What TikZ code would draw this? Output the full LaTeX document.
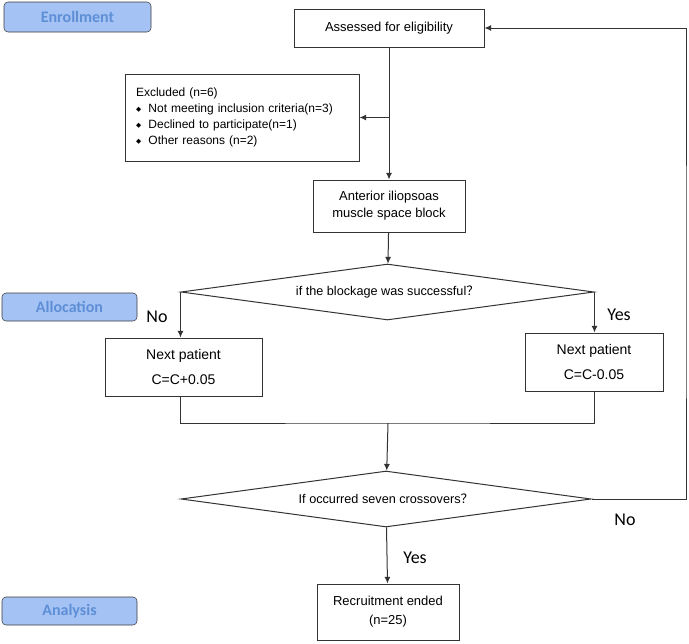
\documentclass[tikz,border=0pt]{standalone}
\usepackage{fontspec}
\setmainfont{Liberation Sans}
\newfontfamily\calibfont{Carlito}
\newfontfamily\cjkfont{Noto Sans CJK SC}
\newfontfamily\symfont{DejaVu Sans}
\usetikzlibrary{shapes.geometric,arrows.meta}
\definecolor{stagefill}{HTML}{A4C2F4}
\definecolor{stagetext}{HTML}{5E8FD6}
\definecolor{stageline}{HTML}{3C3C3C}
\definecolor{flowline}{HTML}{333333}
\newcommand{\bul}{\raisebox{1pt}{\symfont\fontsize{5}{5}\selectfont ◆}\hspace{5.5pt}}

\tikzset{
  stage/.style={draw=stageline, fill=stagefill, rounded corners=3pt, text=stagetext,
    font=\calibfont\bfseries\fontsize{12}{14}\selectfont,
    minimum width=101.25pt, minimum height=21pt, inner sep=0pt},
  box/.style={draw=flowline, line width=.75pt, align=center, inner sep=0pt,
    font=\fontsize{9.75}{12.75}\selectfont},
  decision/.style={draw=flowline, line width=.75pt, diamond, aspect=7.4, inner sep=0pt,
    minimum width=309.75pt, minimum height=42pt, font=\fontsize{9.5}{11}\selectfont},
  yesno/.style={font=\calibfont\fontsize{13.5}{16}\selectfont},
  flow/.style={draw=flowline, line width=.75pt},
  arr/.style={flow, -{Latex[length=5pt,width=4.5pt]}}
}

\begin{document}
\begin{tikzpicture}[x=.75pt, y=-.75pt]
  \useasboundingbox (0,0) rectangle (689,643);

  \coordinate (merge) at (388,423);
  \coordinate (loop) at (686,300);

  \node[stage, minimum width=110.25pt, minimum height=22.5pt] (enrol) at (77.5,17) {Enrollment};
  \node[stage] (alloc) at (69.5,307) {Allocation};
  \node[stage] (anal)  at (69.5,611) {Analysis};

  \node[box, minimum width=142.5pt, minimum height=28.5pt] (assess) at (389,28) {Assessed for eligibility};
  \node[box, align=left, text width=159pt, inner xsep=8.25pt, minimum height=65.25pt,
    font=\fontsize{9}{12}\selectfont] (excl) at (242,117.5)
    {Excluded (n=6)\\
     \bul Not meeting inclusion criteria(n=3)\\
     \bul Declined to participate(n=1)\\
     \bul Other reasons (n=2)};
  \node[box, minimum width=114pt, minimum height=39pt] (block) at (389,206) {Anterior iliopsoas\\muscle space block};
  \node[decision] (succ) at (387.5,292) {if the blockage was successful{\cjkfont ？}};
  \node[box, minimum width=117.75pt, minimum height=43.5pt, font=\fontsize{10.5}{18.75}\selectfont]
    (nextno) at (183.5,367) {Next patient\\C=C+0.05};
  \node[box, minimum width=103.5pt, minimum height=43.5pt, font=\fontsize{10.5}{18.75}\selectfont]
    (nextyes) at (594,362) {Next patient\\C=C-0.05};
  \node[decision, minimum width=307.5pt] (cross) at (386,499) {If occurred seven crossovers{\cjkfont ？}};
  \node[box, minimum width=106.5pt, minimum height=42pt, font=\fontsize{9.75}{14.25}\selectfont]
    (ended) at (388,612) {Recruitment ended\\(n=25)};

  \node[yesno] (no1)  at (157,317) {No};
  \node[yesno] (yes1) at (619,315) {Yes};
  \node[yesno] (no2)  at (625,520) {No};
  \node[yesno] (yes2) at (415,558) {Yes};

  \draw[arr] (assess) -- (block);
  \draw[arr] (assess.south |- excl.east) -- (excl.east);
  \draw[arr] (block) -- (succ);
  \draw[arr] (succ.west) -- (succ.west |- nextno.north);
  \draw[arr] (succ.east) -- (succ.east |- nextyes.north);
  \draw[flow] (succ.west |- nextno.south) |- (merge) -| (nextyes.south);
  \draw[arr] (merge) -- (cross);
  \draw[arr] (cross.east) -| (loop) |- (assess.east);
  \draw[arr] (cross) -- (ended);
\end{tikzpicture}
\end{document}
